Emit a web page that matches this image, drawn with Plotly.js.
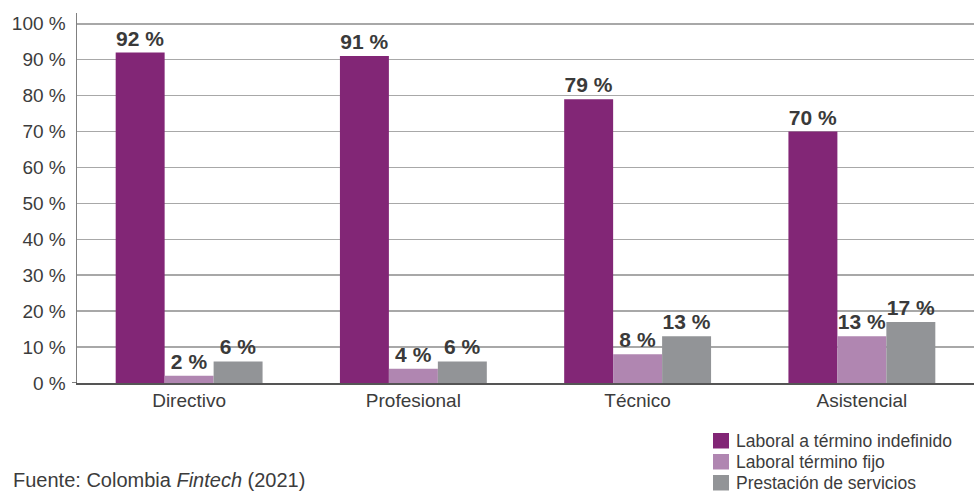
<!DOCTYPE html>
<html>
<head>
<meta charset="utf-8">
<script src="https://cdn.plot.ly/plotly-3.0.1.min.js"></script>
<style>html,body{margin:0;padding:0;background:#fff;}#chart{width:974px;height:494px;}</style>
</head>
<body>
<div id="chart"></div>
<script>
const categories = ["Directivo", "Profesional", "Técnico", "Asistencial"];
const seriesNames = ["Laboral a término indefinido", "Laboral término fijo", "Prestación de servicios"];
const indefinido = [92, 91, 79, 70];
const fijo = [2, 4, 8, 13];
const servicios = [6, 6, 13, 17];
const yTickVals = [0, 10, 20, 30, 40, 50, 60, 70, 80, 90, 100];
const yTickText = yTickVals.map(v => v + " %");
const colors = ["#822676", "#b086b1", "#929497"];
const sourceText = "Fuente: Colombia <i>Fintech</i> (2021)";

const FONT = "Liberation Sans, Arial, Helvetica, sans-serif";
const W = 974, H = 494;
const M = {l: 77, r: 0, t: 13, b: 111};
const PW = W - M.l - M.r, PH = H - M.t - M.b;
const px2x = px => (px - M.l) / PW;
const px2y = py => (H - M.b - py) / PH;

const allSeries = [indefinido, fijo, servicios];
const traces = allSeries.map((vals, i) => ({
  type: "bar",
  name: seriesNames[i],
  x: categories,
  y: vals,
  marker: {color: colors[i]},
  text: vals.map(v => "<b>" + v + " %</b>"),
  textposition: "outside",
  cliponaxis: false,
  textfont: {family: FONT, size: 21, color: "#3a3a3a"},
  showlegend: false,
  hoverinfo: "skip"
}));

// manual legend (square + label) laid out in pixels
const shapes = [{type: "line", xref: "paper", yref: "y", x0: px2x(72), x1: 0, y0: 0, y1: 0, line: {color: "#555", width: 1.5}}];
const annotations = [];
seriesNames.forEach((name, i) => {
  const top = 433 + i * 21;
  shapes.push({type: "rect", xref: "paper", yref: "paper",
    x0: px2x(713), x1: px2x(729), y0: px2y(top), y1: px2y(top + 15.5),
    fillcolor: colors[i], line: {width: 0}});
  annotations.push({text: name, xref: "paper", yref: "paper",
    x: px2x(734), y: px2y(top + 7.5), xanchor: "left", yanchor: "middle",
    showarrow: false, font: {family: FONT, size: 17.5, color: "#3c3c3c"}});
});
annotations.push({
  text: sourceText, xref: "paper", yref: "paper", x: px2x(11), y: px2y(480),
  xanchor: "left", yanchor: "middle", showarrow: false,
  font: {family: FONT, size: 20, color: "#3c3c3c"}
});

const layout = {
  width: W, height: H,
  margin: M,
  paper_bgcolor: "#fff", plot_bgcolor: "#fff",
  font: {family: FONT, color: "#3c3c3c", size: 18},
  barmode: "group",
  bargap: 0.345,
  bargroupgap: 0,
  showlegend: false,
  xaxis: {
    showgrid: false, showline: true, linecolor: "#555", linewidth: 1.5,
    ticks: "", tickfont: {size: 19, color: "#3c3c3c"}, range: [-0.5, 3.5],
    automargin: false
  },
  yaxis: {
    range: [0, 103], tickvals: yTickVals, ticktext: yTickText,
    showgrid: true, gridcolor: "#a8a8a8", gridwidth: 1.5,
    showline: true, linecolor: "#808080", linewidth: 1.5,
    zeroline: false, ticks: "", ticklabelstandoff: 6,
    tickfont: {size: 19, color: "#3c3c3c"}, automargin: false
  },
  shapes: shapes,
  annotations: annotations
};

Plotly.newPlot("chart", traces, layout, {displayModeBar: false, staticPlot: true});
</script>
</body>
</html>
